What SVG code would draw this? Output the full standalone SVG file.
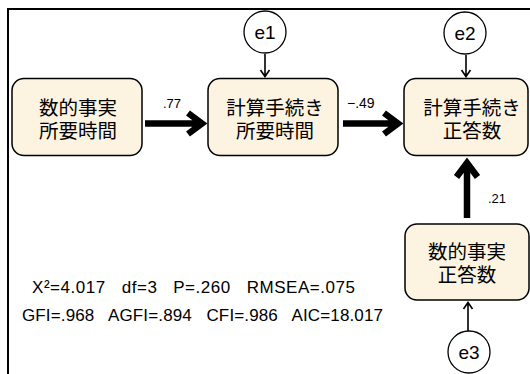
<svg xmlns="http://www.w3.org/2000/svg" width="530" height="374" viewBox="0 0 530 374">
<style>
.box{fill:#FCF3E1;stroke:#000;stroke-width:1.5}
.err{fill:#fff;stroke:#000;stroke-width:1.3}
.jp{font-family:"Noto Sans CJK JP","Noto Sans CJK SC",sans-serif;font-size:19.5px;fill:#000;text-anchor:middle}
.en{font-family:"Liberation Sans",Arial,sans-serif;fill:#000}
.pre{white-space:pre}
.thick{fill:none;stroke:#000;stroke-width:6.5;stroke-linejoin:miter;stroke-miterlimit:10}
.thin{fill:none;stroke:#000;stroke-width:1.6}
</style>
<rect width="530" height="374" fill="#fff"/>
<rect x="8" y="9" width="600" height="500" fill="none" stroke="#000" stroke-width="2"/>

<g id="connectors">
  <path class="thick" d="M145,123.5 H200 M188,113 L202,123.5 L188,134"/>
  <path class="thick" d="M343,123.5 H396 M384,113 L398,123.5 L384,134"/>
  <path class="thick" d="M467,218 V164 M456.5,177 L467,163 L477.5,177"/>
  <path class="thin" d="M265,54 V76 M260.5,70 L265,76.5 L269.5,70"/>
  <path class="thin" d="M466,55 V76 M461.5,70 L466,76.5 L470.5,70"/>
  <path class="thin" d="M468,331 V303 M463.5,309 L468,302.5 L472.5,309"/>
  <text class="en" x="163" y="108" font-size="13">.77</text>
  <text class="en" x="347" y="108" font-size="14">−.49</text>
  <text class="en" x="488" y="203" font-size="13">.21</text>
</g>

<g id="n1">
  <rect class="box" x="12" y="78.5" width="130" height="77" rx="12"/>
  <text class="jp"><tspan x="78" y="115">数的事実</tspan><tspan x="78" y="138">所要時間</tspan></text>
</g>
<g id="n2">
  <rect class="box" x="208" y="78.5" width="130" height="77" rx="12"/>
  <text class="jp"><tspan x="275" y="115">計算手続き</tspan><tspan x="275" y="138">所要時間</tspan></text>
</g>
<g id="n3">
  <rect class="box" x="404" y="78.5" width="124" height="77" rx="12"/>
  <text class="jp"><tspan x="472" y="115">計算手続き</tspan><tspan x="472" y="138">正答数</tspan></text>
</g>
<g id="n4">
  <rect class="box" x="405" y="224" width="124" height="76" rx="12"/>
  <text class="jp"><tspan x="467" y="259">数的事実</tspan><tspan x="467" y="282">正答数</tspan></text>
</g>
<g id="e1">
  <circle class="err" cx="265" cy="32" r="21"/>
  <text class="en" x="265" y="39" font-size="19" text-anchor="middle">e1</text>
</g>
<g id="e2">
  <circle class="err" cx="465" cy="33" r="21"/>
  <text class="en" x="465" y="40" font-size="19" text-anchor="middle">e2</text>
</g>
<g id="e3">
  <circle class="err" cx="469" cy="352" r="21"/>
  <text class="en" x="469" y="359" font-size="19" text-anchor="middle">e3</text>
</g>
<g id="stats">
  <text class="en pre" xml:space="preserve" x="32" y="293" font-size="17" textLength="323">X²=4.017   df=3   P=.260   RMSEA=.075</text>
  <text class="en pre" xml:space="preserve" x="22" y="321" font-size="17" textLength="361">GFI=.968   AGFI=.894   CFI=.986   AIC=18.017</text>
</g>
</svg>
